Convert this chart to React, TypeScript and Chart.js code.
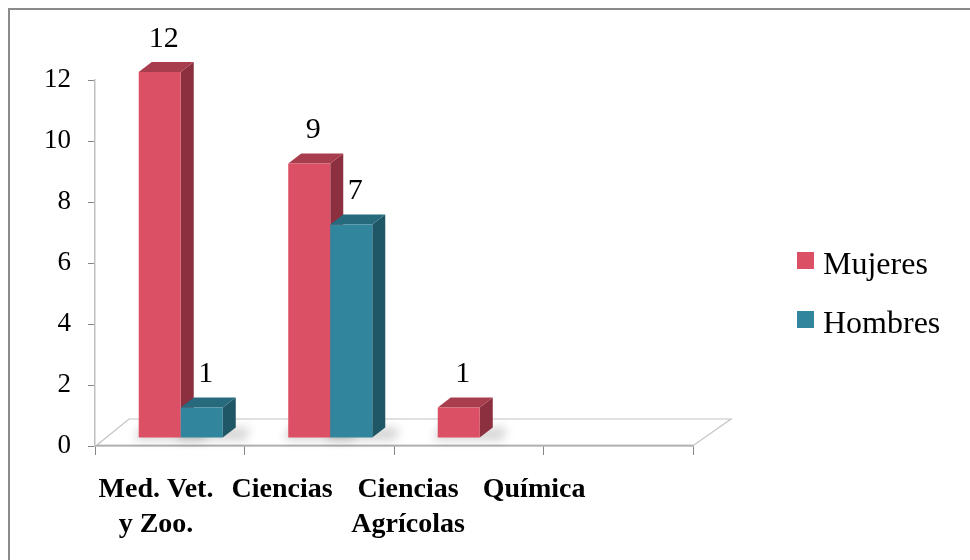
import { useEffect, useRef } from "react";
import { Chart, registerables } from "chart.js";

Chart.register(...registerables);

// ---- data ----
const categories: string[][] = [["Med. Vet.", "y Zoo."], ["Ciencias"], ["Ciencias", "Agrícolas"], ["Química"]];
const seriesNames = ["Mujeres", "Hombres"];
const mujeres = [12, 9, 1, 0];
const hombres = [1, 7, 0, 0];
const yMin = 0;
const yMax = 12;
const yStep = 2;

// ---- styles ----
const FRONT = ["#DC5066", "#31859C"];
const SIDE = ["#8C2F3F", "#205767"];
const TOP = ["#A83D4D", "#286A7D"];
const SERIF = "'Liberation Serif', 'Times New Roman', serif";
const SHIFT = { dx: 11, dy: -8 };
const DEPTH = { dx: 13, dy: -10 };
const FLOOR = { dx: 37, dy: -26 };
const LABEL_SPREAD = 0.843;

const bars3d = {
  id: "bars3d",
  beforeDraw(chart: any) {
    const ctx = chart.ctx;
    ctx.save();
    ctx.fillStyle = "#ffffff";
    ctx.fillRect(0, 0, chart.width, chart.height);
    ctx.fillStyle = "#8a8a8a";
    ctx.fillRect(8, 8, 2, chart.height - 8);
    ctx.fillRect(8, 8, chart.width - 8, 2);
    ctx.restore();
  },
  beforeDatasetsDraw(chart: any) {
    const ctx = chart.ctx;
    const a = chart.chartArea;
    const fy = a.bottom - 1;
    // floor
    ctx.save();
    ctx.beginPath();
    ctx.moveTo(a.left + 2, fy);
    ctx.lineTo(a.right + 1, fy);
    ctx.lineTo(a.right + 1 + FLOOR.dx, fy + FLOOR.dy);
    ctx.lineTo(a.left + 2 + FLOOR.dx - 5, fy + FLOOR.dy);
    ctx.closePath();
    ctx.fillStyle = "#ffffff";
    ctx.fill();
    ctx.strokeStyle = "#c4c4c4";
    ctx.lineWidth = 1.2;
    ctx.stroke();
    ctx.restore();

    const n = chart.data.labels.length;
    // shadows
    ctx.save();
    ctx.filter = "blur(5px)";
    ctx.fillStyle = "rgba(0,0,0,0.16)";
    for (let i = 0; i < n; i++) {
      chart.data.datasets.forEach((ds: any, d: number) => {
        const v = ds.data[i];
        if (!v) return;
        const el = chart.getDatasetMeta(d).data[i];
        const { x, width, base } = el.getProps(["x", "width", "base"], true);
        const l = x - width / 2 + SHIFT.dx;
        const r = x + width / 2 + SHIFT.dx;
        const b = base + SHIFT.dy;
        ctx.beginPath();
        ctx.moveTo(l - 4, b + 3);
        ctx.lineTo(r + DEPTH.dx + 10, b + 3);
        ctx.lineTo(r + DEPTH.dx + 14, b + DEPTH.dy);
        ctx.lineTo(l, b + DEPTH.dy);
        ctx.closePath();
        ctx.fill();
      });
    }
    ctx.restore();

    // bars
    for (let i = 0; i < n; i++) {
      chart.data.datasets.forEach((ds: any, d: number) => {
        const v = ds.data[i];
        if (!v) return;
        const el = chart.getDatasetMeta(d).data[i];
        const { x, y, width, base } = el.getProps(["x", "y", "width", "base"], true);
        const l = x - width / 2 + SHIFT.dx;
        const r = x + width / 2 + SHIFT.dx;
        const t = y + SHIFT.dy;
        const b = base + SHIFT.dy;
        ctx.save();
        // side
        ctx.beginPath();
        ctx.moveTo(r, t);
        ctx.lineTo(r + DEPTH.dx, t + DEPTH.dy);
        ctx.lineTo(r + DEPTH.dx, b + DEPTH.dy);
        ctx.lineTo(r, b);
        ctx.closePath();
        ctx.fillStyle = SIDE[d];
        ctx.fill();
        // top
        ctx.beginPath();
        ctx.moveTo(l, t);
        ctx.lineTo(r, t);
        ctx.lineTo(r + DEPTH.dx, t + DEPTH.dy);
        ctx.lineTo(l + DEPTH.dx, t + DEPTH.dy);
        ctx.closePath();
        ctx.fillStyle = TOP[d];
        ctx.fill();
        // front
        ctx.fillStyle = FRONT[d];
        ctx.fillRect(l, t, r - l, b - t);
        ctx.restore();
      });
    }
  },
  beforeDatasetDraw() {
    return false;
  },
  afterDatasetsDraw(chart: any) {
    const ctx = chart.ctx;
    const a = chart.chartArea;
    ctx.save();
    // data labels
    ctx.font = `30px ${SERIF}`;
    ctx.fillStyle = "#000";
    ctx.textAlign = "center";
    ctx.textBaseline = "middle";
    chart.data.datasets.forEach((ds: any, d: number) => {
      ds.data.forEach((v: number, i: number) => {
        if (!v) return;
        const el = chart.getDatasetMeta(d).data[i];
        const { x, y } = el.getProps(["x", "y"], true);
        ctx.fillText(String(v), x + SHIFT.dx + 4, y + SHIFT.dy - 33);
      });
    });

    // category labels
    ctx.font = `bold 28px ${SERIF}`;
    ctx.textBaseline = "alphabetic";
    const labels = chart.data.labels as string[][];
    const step = ((a.right - a.left) * LABEL_SPREAD) / labels.length;
    labels.forEach((lines, i) => {
      const cx = a.left - 2 + step * (i + 0.5);
      lines.forEach((ln, k) => {
        ctx.fillText(ln, cx, a.bottom + 51 + k * 35);
      });
    });

    // legend
    ctx.font = `32px ${SERIF}`;
    ctx.textAlign = "left";
    chart.data.datasets.forEach((ds: any, d: number) => {
      const by = 274 + d * 59;
      ctx.fillStyle = FRONT[d];
      ctx.fillRect(797, by - 22, 17, 17);
      ctx.fillStyle = "#000";
      ctx.fillText(ds.label, 823, by);
    });
    ctx.restore();
  },
};

export default function App() {
  const ref = useRef<HTMLCanvasElement | null>(null);
  useEffect(() => {
    if (!ref.current) return;
    const chart = new Chart(ref.current, {
      type: "bar",
      data: {
        labels: categories,
        datasets: [
          { label: seriesNames[0], data: mujeres, backgroundColor: FRONT[0] },
          { label: seriesNames[1], data: hombres, backgroundColor: FRONT[1] },
        ],
      },
      options: {
        responsive: false,
        animation: false,
        devicePixelRatio: 1,
        layout: { padding: { left: 10, right: 277, top: 80, bottom: 14 } },
        plugins: { legend: { display: false }, tooltip: { enabled: false } },
        datasets: { bar: { categoryPercentage: 0.562, barPercentage: 1 } },
        scales: {
          x: {
            type: "category",
            grid: { offset: true, drawOnChartArea: false, tickLength: 9, color: "#868686" },
            border: { color: "#9a9a9a", width: 1.5 },
            ticks: { display: false },
            afterFit: (s: any) => {
              s.height = 100;
            },
          },
          y: {
            min: yMin,
            max: yMax,
            ticks: { stepSize: yStep, font: { family: SERIF, size: 27 }, color: "#000", padding: 17 },
            grid: { drawOnChartArea: false, tickLength: 7, color: "#868686" },
            border: { color: "#c0c0c0", width: 1.5 },
            afterFit: (s: any) => {
              s.width = 85;
            },
          },
        },
      } as any,
      plugins: [bars3d],
    });
    return () => chart.destroy();
  }, []);
  return (
    <div style={{ position: "fixed", left: 0, top: 0, width: 970, height: 560 }}>
      <canvas ref={ref} width={970} height={560} />
    </div>
  );
}
